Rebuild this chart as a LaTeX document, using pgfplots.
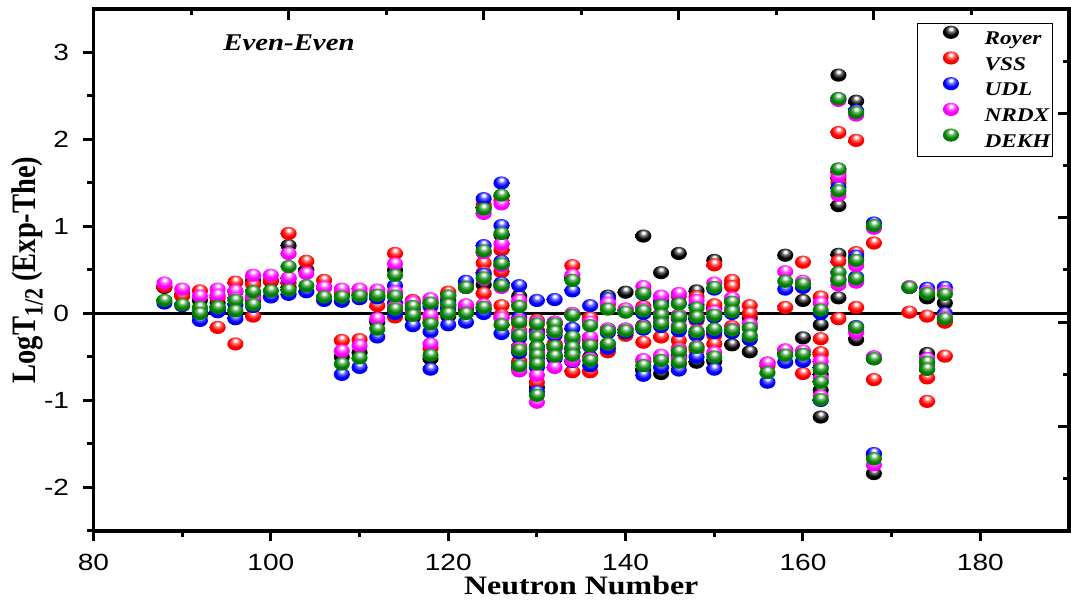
\documentclass[border=0pt]{standalone}
\usepackage{graphicx}
\usepackage{pgfplots}
\pgfplotsset{compat=1.18}
\usepackage{pgfplotstable}
\usepackage{fontspec}
\setmainfont{Liberation Serif}[FakeStretch=1.2]
\setsansfont{Liberation Sans}
\newfontfamily\ylabfont{Liberation Serif}
\newcommand\tl[1]{\scalebox{1.2}[1]{\textsf{#1}}}
\definecolor{ogreen}{RGB}{0,128,0}
\colorlet{ballc}{black}
\pgfdeclareradialshading[ballc]{glossball}{\pgfqpoint{0bp}{14bp}}{%
  color(0bp)=(white); color(4bp)=(white); color(10bp)=(ballc!55!white);
  color(20bp)=(ballc); color(36bp)=(ballc!90!black); color(50bp)=(ballc!70!black)}
\pgfdeclareplotmark{gball}{%
  \pgfpathellipse{\pgfpointorigin}{\pgfpoint{1.22\pgfplotmarksize}{0pt}}{\pgfpoint{0pt}{\pgfplotmarksize}}%
  \pgfshadepath{glossball}{0}\pgfusepath{discard}}

\pgfplotstableread{
N R V U X D
88 0.30 0.31 0.12 0.35 0.15
90 0.22 0.20 0.09 0.28 0.10
92 0.15 0.26 0.03 0.20 0.07
92 -0.02 0.02 -0.08 0.05 0.00
94 0.12 0.18 0.04 0.28 0.08
94 0.05 -0.16 0.02 0.21 0.07
96 0.25 0.36 0.10 0.26 0.15
96 0.00 -0.35 -0.06 0.17 0.03
98 0.38 0.33 0.20 0.44 0.25
98 0.15 -0.03 0.08 0.18 0.10
100 0.37 0.38 0.19 0.44 0.26
102 0.78 0.92 0.40 0.69 0.54
102 0.30 0.35 0.22 0.41 0.27
104 0.50 0.60 0.25 0.46 0.32
106 0.30 0.38 0.15 0.30 0.19
108 0.22 0.25 0.14 0.28 0.19
108 -0.50 -0.31 -0.70 -0.43 -0.58
110 0.22 0.24 0.17 0.28 0.20
110 -0.45 -0.30 -0.62 -0.37 -0.51
112 0.20 0.24 0.18 0.27 0.21
112 -0.10 0.09 -0.27 -0.06 -0.18
114 0.50 0.69 0.32 0.57 0.44
114 0.20 0.22 0.12 0.25 0.20
114 0.02 -0.04 0.00 0.08 0.05
116 0.12 0.15 0.05 0.13 0.08
116 -0.05 0.02 -0.14 0.00 -0.02
118 0.12 0.14 0.08 0.17 0.12
118 -0.10 -0.05 -0.21 -0.02 -0.12
118 -0.52 -0.40 -0.64 -0.35 -0.48
120 0.22 0.245 0.15 0.20 0.20
120 0.08 0.12 0.05 0.10 0.10
120 -0.03 0.02 -0.13 0.00 0.00
122 0.30 0.33 0.37 0.30 0.30
122 0.05 0.08 -0.10 0.10 0.00
124 1.22 1.25 1.32 1.15 1.20
124 0.70 0.58 0.78 0.70 0.72
124 0.33 0.47 0.45 0.40 0.41
124 0.05 0.23 0.00 0.10 0.07
126 1.35 1.30 1.50 1.26 1.36
126 0.90 0.73 1.01 0.80 0.92
126 0.55 0.48 0.60 0.55 0.57
126 0.32 0.09 0.35 0.30 0.32
126 -0.05 -0.02 -0.23 -0.05 -0.13
128 0.20 0.10 0.32 0.15 0.08
128 -0.08 -0.12 -0.05 -0.08 -0.10
128 -0.22 -0.20 -0.28 -0.22 -0.25
128 -0.40 -0.38 -0.45 -0.40 -0.42
128 -0.58 -0.55 -0.62 -0.66 -0.60
130 -0.10 -0.08 0.15 -0.10 -0.12
130 -0.20 -0.20 -0.22 -0.25 -0.27
130 -0.38 -0.40 -0.42 -0.45 -0.39
130 -0.48 -0.50 -0.52 -0.55 -0.48
130 -0.58 -0.60 -0.62 -0.71 -0.58
130 -0.85 -0.79 -0.90 -1.02 -0.94
132 -0.10 -0.12 0.16 -0.10 -0.12
132 -0.20 -0.18 -0.25 -0.22 -0.21
132 -0.36 -0.35 -0.40 -0.40 -0.38
132 -0.48 -0.50 -0.52 -0.62 -0.49
134 0.40 0.55 0.26 0.44 0.38
134 -0.02 0.00 -0.17 0.00 -0.02
134 -0.27 -0.30 -0.32 -0.30 -0.27
134 -0.40 -0.45 -0.45 -0.39 -0.39
134 -0.55 -0.67 -0.55 -0.54 -0.48
136 -0.08 -0.05 0.09 -0.10 -0.14
136 -0.30 -0.35 -0.38 -0.27 -0.37
136 -0.50 -0.67 -0.60 -0.52 -0.54
138 0.20 0.10 0.17 0.12 0.05
138 -0.18 -0.20 -0.22 -0.18 -0.20
138 -0.35 -0.44 -0.40 -0.35 -0.35
140 0.245 0.05 0.03 0.05 0.015
140 -0.18 -0.25 -0.22 -0.18 -0.20
142 0.89 0.25 0.22 0.31 0.23
142 0.05 0.08 0.00 0.05 0.03
142 -0.14 -0.33 -0.18 -0.15 -0.16
142 -0.65 -0.55 -0.71 -0.53 -0.60
144 0.47 0.15 0.12 0.20 0.09
144 0.00 -0.05 -0.03 0.00 -0.02
144 -0.10 -0.27 -0.15 -0.10 -0.12
144 -0.69 -0.50 -0.62 -0.48 -0.54
146 0.69 0.20 0.12 0.23 0.11
146 -0.02 -0.05 -0.06 -0.02 -0.04
146 -0.15 -0.31 -0.20 -0.14 -0.16
146 -0.42 -0.40 -0.48 -0.42 -0.44
146 -0.58 -0.50 -0.65 -0.52 -0.56
148 0.26 0.19 0.10 0.15 0.06
148 -0.05 -0.08 -0.06 -0.03 -0.04
148 -0.22 -0.25 -0.25 -0.20 -0.21
148 -0.56 -0.42 -0.50 -0.38 -0.39
150 0.61 0.56 0.28 0.35 0.30
150 0.05 0.10 -0.04 0.02 -0.02
150 -0.20 -0.25 -0.22 -0.18 -0.18
150 -0.55 -0.35 -0.64 -0.45 -0.50
152 0.33 0.38 0.15 0.18 0.13
152 0.05 0.31 0.00 0.05 0.02
152 -0.36 -0.15 -0.22 -0.18 -0.19
154 -0.05 0.09 -0.15 -0.12 -0.17
154 -0.44 0.00 -0.30 -0.25 -0.26
156 -0.57 -0.60 -0.79 -0.57 -0.68
158 0.67 0.07 0.28 0.48 0.37
158 -0.45 -0.42 -0.56 -0.42 -0.48
160 0.15 0.59 0.30 0.37 0.34
160 -0.28 -0.69 -0.55 -0.43 -0.47
162 -0.13 0.19 0.00 0.12 0.04
162 -0.70 -0.29 -0.62 -0.55 -0.64
162 -0.88 -0.47 -0.78 -0.75 -0.79
162 -1.19 -0.45 -1.00 -0.95 -0.99
164 2.74 2.08 2.47 2.45 2.47
164 1.55 1.62 1.66 1.58 1.66
164 1.24 1.50 1.45 1.36 1.41
164 0.68 0.60 0.47 0.40 0.47
164 0.18 -0.06 0.38 0.33 0.38
166 2.44 1.99 2.33 2.28 2.31
166 0.62 0.70 0.66 0.55 0.61
166 0.38 0.07 0.42 0.36 0.40
166 -0.30 -0.20 -0.15 -0.22 -0.16
168 1.00 0.81 1.04 0.98 1.01
168 -0.52 -0.76 -0.50 -0.50 -0.52
168 -1.84 -1.62 -1.61 -1.74 -1.67
172 0.30 0.015 0.30 0.31 0.30
174 0.18 -0.03 0.29 0.25 0.23
174 -0.46 -0.74 -0.52 -0.52 -0.56
174 -0.60 -1.01 -0.64 -0.60 -0.64
176 0.12 -0.49 0.30 0.25 0.22
176 -0.08 -0.10 0.00 -0.04 -0.06
}\datatable

\begin{document}
\begin{tikzpicture}
\begin{axis}[
  scale only axis, width=487.75pt, height=261pt,
  xmin=80, xmax=190, ymin=-2.5, ymax=3.5,
  axis x line*=bottom, axis y line*=left,
  axis line style={line width=1.7pt, -, line cap=rect},
  tick align=outside,
  xtick={80,100,...,180},
  xticklabels={\tl{80},\tl{100},\tl{120},\tl{140},\tl{160},\tl{180}},
  minor xtick={90,110,...,170},
  ytick={-2,-1,0,1,2,3},
  yticklabels={\tl{-2},\tl{-1},\tl{0},\tl{1},\tl{2},\tl{3}},
  minor ytick={-2.5,-1.5,-0.5,0.5,1.5,2.5},
  major tick length=5pt, minor tick length=3pt,
  tick style={line width=1.5pt, black},
  tick label style={font=\fontsize{11.7}{13}\selectfont\sffamily},
  xticklabel style={yshift=-3pt},
  yticklabel style={inner xsep=0pt, xshift=-7pt},
  every axis x label/.style={at={(axis description cs:0.5,0)}, yshift=-27pt, anchor=center},
  every axis y label/.style={at={(axis description cs:0,0.5)}, xshift=-33pt, rotate=90, anchor=center},
  xlabel={\fontsize{13.3}{15}\selectfont\bfseries Neutron Number},
  ylabel={\ylabfont\bfseries\fontsize{14.25}{16}\selectfont\scalebox{1}[1.2]{LogT\raisebox{-0.45ex}{\fontsize{11}{12}\selectfont 1/2} (Exp-The)}},
  legend style={at={(axis description cs:0.8439,0.9738)}, anchor=north west, draw=black, line width=0.6pt,
    inner xsep=0pt, inner ysep=1.2pt, row sep=0pt,
    font=\fontsize{9.7}{11}\selectfont\bfseries\itshape,
    nodes={inner sep=0pt, text height=9pt, text depth=3.5pt}},
  legend cell align=left,
  legend image code/.code={\path (-16.5pt,0pt) (16.5pt,0pt); \draw[#1] plot coordinates {(0pt,3.3pt)};},
]
\addplot[black, line width=1.3pt, forget plot] coordinates {(80,0) (190,0)};
\addplot[only marks, mark=gball, mark size=3.3pt, mark options={/utils/exec={\colorlet{ballc}{black}}}] table[x=N,y=R]{\datatable};
\addlegendentry{\makebox[34pt][l]{Royer}}
\addplot[only marks, mark=gball, mark size=3.3pt, mark options={/utils/exec={\colorlet{ballc}{red}}}] table[x=N,y=V]{\datatable};
\addlegendentry{\makebox[34pt][l]{VSS}}
\addplot[only marks, mark=gball, mark size=3.3pt, mark options={/utils/exec={\colorlet{ballc}{blue}}}] table[x=N,y=U]{\datatable};
\addlegendentry{\makebox[34pt][l]{UDL}}
\addplot[only marks, mark=gball, mark size=3.3pt, mark options={/utils/exec={\colorlet{ballc}{magenta}}}] table[x=N,y=X]{\datatable};
\addlegendentry{\makebox[34pt][l]{NRDX}}
\addplot[only marks, mark=gball, mark size=3.3pt, mark options={/utils/exec={\colorlet{ballc}{ogreen}}}] table[x=N,y=D]{\datatable};
\addlegendentry{\makebox[34pt][l]{DEKH}}
\node[font=\fontsize{12}{13}\selectfont\bfseries\itshape, anchor=center] at (axis description cs:0.2004,0.935) {Even-Even};
\end{axis}
\begin{axis}[
  scale only axis, width=487.75pt, height=261pt,
  xmin=80, xmax=190, ymin=-2.5, ymax=3.5,
  axis x line*=top, axis y line*=right,
  axis line style={line width=1.7pt, -, line cap=rect},
  tick align=inside,
  xtick={102,124,146,168}, minor xtick={91,113,135,157,179},
  ytick={2.3,1.1,-0.1,-1.3}, minor ytick={2.9,1.7,0.5,-0.7,-1.9},
  xticklabels={}, yticklabels={},
  major tick length=5.5pt, minor tick length=3pt,
  tick style={line width=1.5pt, black},
]
\end{axis}
\pgfresetboundingbox
\path[use as bounding box] ([shift={(-46.75pt,-36.5pt)}]current axis.south west) rectangle ([shift={(1pt,4.5pt)}]current axis.north east);
\end{tikzpicture}
\end{document}
